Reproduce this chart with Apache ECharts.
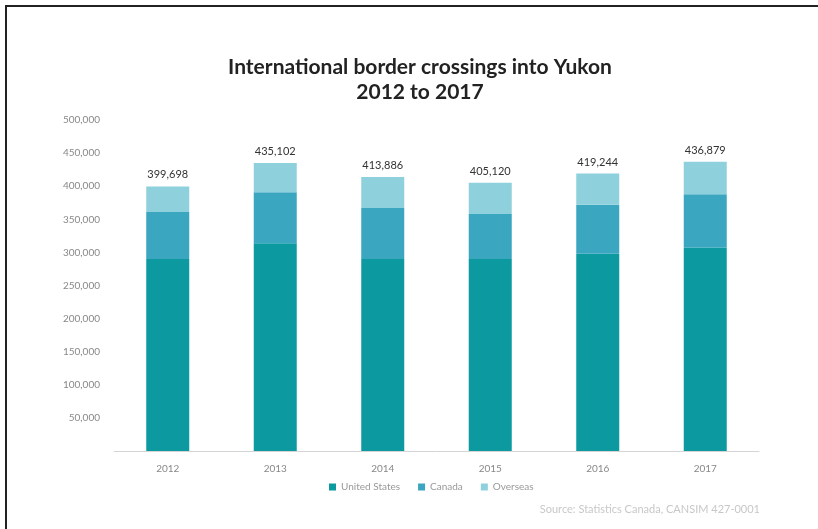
<!DOCTYPE html>
<html>
<head>
<meta charset="utf-8">
<script src="https://cdn.jsdelivr.net/npm/echarts@6/dist/echarts.min.js"></script>
<style>
  html, body { margin: 0; padding: 0; background: #fff; }
  #chart { width: 818px; height: 529px; }
</style>
</head>
<body>
<div id="chart"></div>
<script>
// chart data
const years = ['2012', '2013', '2014', '2015', '2016', '2017'];
const unitedStates = [290000, 314000, 290000, 290000, 298000, 307000];
const canada = [71000, 77000, 77000, 68000, 74000, 81000];
const overseas = [38698, 44102, 46886, 47120, 47244, 48879];
const totals = [399698, 435102, 413886, 405120, 419244, 436879];

const chart = echarts.init(document.getElementById('chart'));

const fmt = v => v.toLocaleString('en-US');

let option = {
    backgroundColor: '#fff',
    animation: false,
    grid: { left: 114, right: 59, top: 120, bottom: 78 },
    xAxis: {
        type: 'category',
        data: years,
        axisLine: { lineStyle: { color: '#d5d5d5' } },
        axisTick: { show: false },
        axisLabel: { color: '#888', fontSize: 10, margin: 13, fontFamily: 'Lato' }
    },
    yAxis: {
        type: 'value',
        min: 0,
        max: 500000,
        interval: 50000,
        splitLine: { show: false },
        axisLine: { show: false },
        axisTick: { show: false },
        axisLabel: {
            color: '#888',
            fontSize: 10,
            margin: 14,
            fontFamily: 'Lato',
            formatter: v => v === 0 ? '' : fmt(v)
        }
    },
    legend: {
        bottom: 32,
        left: 324,
        itemWidth: 7,
        itemHeight: 7,
        itemGap: 18,
        icon: 'rect',
        textStyle: { color: '#999', fontSize: 10, fontFamily: 'Lato' }
    },
    series: [
        {
            name: 'United States', type: 'bar', stack: 'all', barWidth: '40%',
            data: unitedStates,
            itemStyle: { color: '#0c9aa0' }
        },
        {
            name: 'Canada', type: 'bar', stack: 'all',
            data: canada,
            itemStyle: { color: '#3aa6bf' }
        },
        {
            name: 'Overseas', type: 'bar', stack: 'all',
            data: overseas,
            itemStyle: { color: '#8fd0dd' },
            label: {
                show: true,
                position: 'top',
                distance: 6,
                color: '#333',
                fontSize: 11,
                fontFamily: 'Lato',
                formatter: p => fmt(totals[p.dataIndex])
            }
        }
    ],
    graphic: [
        { type: 'rect', shape: { x: 5, y: 5, width: 813, height: 2 }, style: { fill: '#222' } },
        { type: 'rect', shape: { x: 5, y: 5, width: 2, height: 524 }, style: { fill: '#222' } },
        {
            type: 'text', x: 420, y: 55,
            style: {
                text: 'International border crossings into Yukon\n2012 to 2017',
                align: 'center',
                fill: '#222',
                fontSize: 21,
                fontWeight: 'bold',
                fontFamily: 'Lato',
                lineHeight: 25
            }
        },
        {
            type: 'text', right: 58, top: 504,
            style: { text: 'Source: Statistics Canada, CANSIM 427-0001', fill: '#c8c8c8', fontSize: 11, fontFamily: 'Lato' }
        }
    ]
};

chart.setOption(option);
</script>
</body>
</html>
